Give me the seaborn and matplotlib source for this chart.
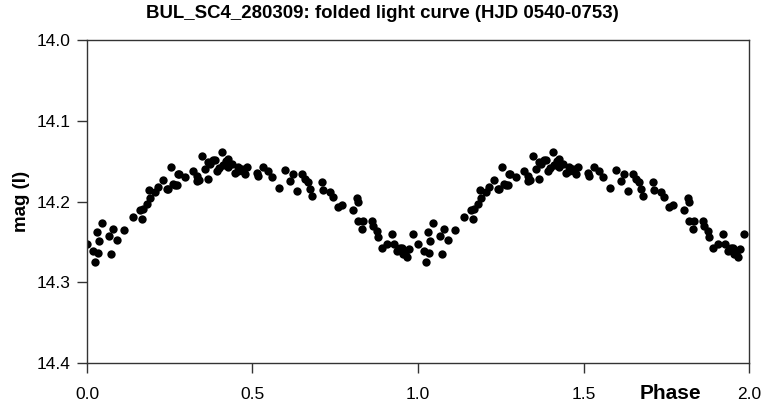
import pandas as pd
import matplotlib
matplotlib.use('Agg')
import matplotlib.pyplot as plt
import seaborn as sns

# Fase e magnitude de um ciclo (a curva dobrada repete o ciclo em fase + 1)
fase = [0.000, 0.019, 0.024, 0.031, 0.034, 0.037, 0.044, 0.067, 0.073, 0.080,
        0.092, 0.112, 0.140, 0.160, 0.165, 0.170, 0.180, 0.188, 0.190, 0.205,
        0.216, 0.229, 0.241, 0.246, 0.253, 0.261, 0.266, 0.273, 0.276, 0.279,
        0.296, 0.321, 0.331, 0.333, 0.339, 0.346, 0.356, 0.366, 0.366, 0.372,
        0.382, 0.387, 0.392, 0.400, 0.407, 0.412, 0.420, 0.427, 0.427, 0.437,
        0.447, 0.457, 0.457, 0.467, 0.472, 0.477, 0.482, 0.513, 0.518, 0.533,
        0.548, 0.558, 0.581, 0.598, 0.613, 0.623, 0.633, 0.649, 0.659, 0.669,
        0.674, 0.679, 0.709, 0.712, 0.734, 0.742, 0.759, 0.769, 0.805, 0.815,
        0.820, 0.820, 0.830, 0.835, 0.860, 0.865, 0.875, 0.880, 0.890, 0.906,
        0.920, 0.926, 0.936, 0.946, 0.951, 0.956, 0.961, 0.966, 0.974, 0.986]
mag = [14.253, 14.261, 14.275, 14.237, 14.264, 14.249, 14.226, 14.243, 14.265, 14.234,
       14.248, 14.235, 14.219, 14.210, 14.222, 14.209, 14.203, 14.186, 14.195, 14.188,
       14.182, 14.173, 14.184, 14.184, 14.157, 14.178, 14.180, 14.180, 14.166, 14.166,
       14.170, 14.162, 14.174, 14.168, 14.173, 14.143, 14.159, 14.172, 14.151, 14.153,
       14.149, 14.149, 14.162, 14.158, 14.139, 14.155, 14.150, 14.147, 14.157, 14.153,
       14.164, 14.157, 14.162, 14.159, 14.162, 14.166, 14.157, 14.164, 14.168, 14.157,
       14.162, 14.170, 14.183, 14.161, 14.174, 14.166, 14.187, 14.166, 14.172, 14.176,
       14.184, 14.193, 14.176, 14.186, 14.188, 14.194, 14.207, 14.204, 14.210, 14.195,
       14.201, 14.224, 14.234, 14.224, 14.224, 14.230, 14.236, 14.244, 14.257, 14.253,
       14.240, 14.253, 14.261, 14.257, 14.257, 14.265, 14.263, 14.269, 14.259, 14.240]

xticks = [0.0, 0.5, 1.0, 1.5, 2.0]
yticks = [14.0, 14.1, 14.2, 14.3, 14.4]

df = pd.DataFrame({'Phase': fase + [f + 1 for f in fase], 'mag': mag + mag})

sns.set_style("white")
plt.rcParams['font.family'] = ['Liberation Sans', 'DejaVu Sans']
plt.rcParams['text.color'] = 'black'
plt.rcParams['axes.labelcolor'] = 'black'

fig = plt.figure(figsize=(7.65, 4.09), dpi=100)
ax = fig.add_axes([0.1137, 0.112, 0.8654, 0.790])

sns.scatterplot(data=df, x='Phase', y='mag', color='black', s=36,
                edgecolor='black', linewidth=0, ax=ax, legend=False)

ax.set_xlim(0, 2)
ax.set_ylim(14.4, 14.0)
ax.set_xticks(xticks)
ax.set_yticks(yticks)
ax.set_xticklabels([f'{v:.1f}' for v in xticks], fontsize=12.5)
ax.set_yticklabels([f'{v:.1f}' for v in yticks], fontsize=12.5)
ax.tick_params(axis='x', bottom=True, direction='out', length=7, width=1, pad=10,
               color='#333333', labelcolor='black')
ax.tick_params(axis='y', left=True, direction='out', length=7, width=1, pad=5,
               color='#333333', labelcolor='black')
for sp in ax.spines.values():
    sp.set_color('#333333')
    sp.set_linewidth(1)

ax.set_title('BUL_SC4_280309: folded light curve (HJD 0540-0753)',
             fontsize=13.4, fontweight='bold', x=0.446, pad=16)
ax.set_xlabel('Phase', fontsize=15, fontweight='bold')
ax.xaxis.set_label_coords(0.882, -0.065)
ax.set_ylabel('mag (I)', fontsize=13.5, fontweight='bold')
ax.yaxis.set_label_coords(-0.086, 0.5)

plt.savefig('out.png', dpi=100)
